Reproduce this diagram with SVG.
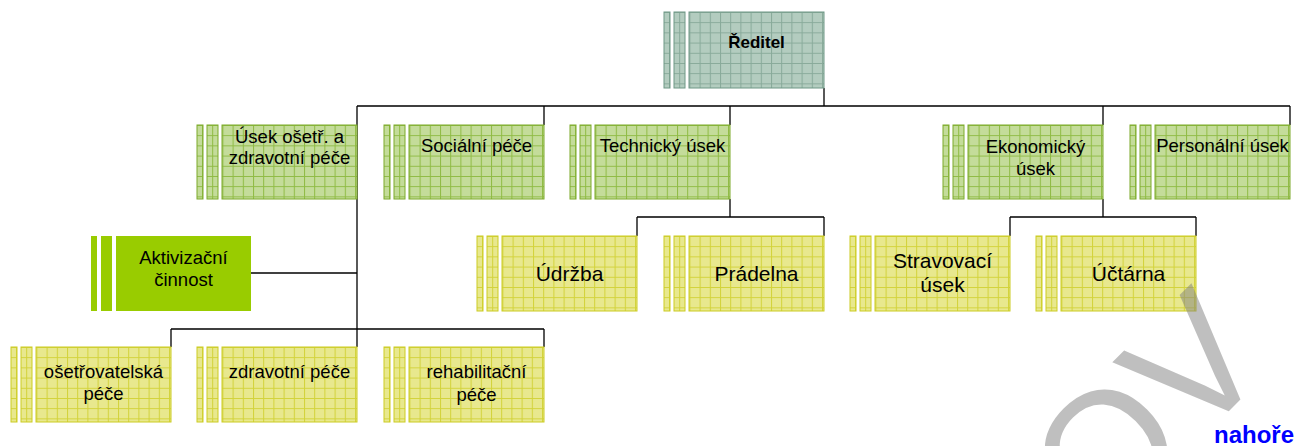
<svg xmlns="http://www.w3.org/2000/svg" width="1297" height="446" viewBox="0 0 1297 446">
<style>
text{font-family:"Liberation Sans",Arial,sans-serif;fill:#000;text-anchor:middle}
.g rect{fill:url(#pG);stroke:#7caa2a;stroke-width:1}
.y rect{fill:url(#pY);stroke:#cccc22;stroke-width:1}
.t rect{fill:url(#pT);stroke:#6e9886;stroke-width:1}
.a rect{fill:#99cc00;stroke:none}
.f18{font-size:18.5px}
.f21{font-size:21px}
.conn path{fill:none;stroke:#000;stroke-width:1.3}
</style>
<defs>
<pattern id="pG" x="5" width="10.2" height="10.2" patternUnits="userSpaceOnUse"><rect width="10.2" height="10.2" fill="#c4dc9a"/><path d="M0 0.5H10.2M0.5 0V10.2" stroke="#8fbb44" stroke-width="1"/></pattern>
<pattern id="pY" x="5" width="10.2" height="10.2" patternUnits="userSpaceOnUse"><rect width="10.2" height="10.2" fill="#e8e88e"/><path d="M0 0.5H10.2M0.5 0V10.2" stroke="#d2d23a" stroke-width="1"/></pattern>
<pattern id="pT" x="5" width="10.2" height="10.2" patternUnits="userSpaceOnUse"><rect width="10.2" height="10.2" fill="#b3ccbf"/><path d="M0 0.5H10.2M0.5 0V10.2" stroke="#88aa9a" stroke-width="1"/></pattern>
</defs>

<g id="connectors" class="conn">
<path d="M824 88V106M357 106H1290M357 106V347M544 106V125M730 106V125M1103 106V125M1290 106V125"/>
<path d="M730 199V217M637 217H824M637 217V236M824 217V236"/>
<path d="M1103 199V217M1010 217H1196M1010 217V236M1196 217V236"/>
<path d="M251 273H357"/>
<path d="M171 329H544M171 329V347M544 329V347"/>
</g>

<g id="n-reditel" class="t" transform="translate(664,12)">
<rect x="0" y="0" width="6" height="76"/><rect x="10" y="0" width="11" height="76"/><rect x="25" y="0" width="135" height="76"/>
<text x="92.5" y="36" style="font-size:17px;font-weight:bold">Ředitel</text>
</g>

<g id="n-usek" class="g" transform="translate(197,125)">
<rect x="0" y="0" width="6" height="74"/><rect x="10" y="0" width="11" height="74"/><rect x="25" y="0" width="135" height="74"/>
<text class="f18" x="92.5" y="17.5">Úsek ošetř. a</text>
<text class="f18" x="92.5" y="38.5">zdravotní péče</text>
</g>

<g id="n-socialni" class="g" transform="translate(384,125)">
<rect x="0" y="0" width="6" height="74"/><rect x="10" y="0" width="11" height="74"/><rect x="25" y="0" width="135" height="74"/>
<text class="f18" x="92.5" y="27">Sociální péče</text>
</g>

<g id="n-technicky" class="g" transform="translate(570,125)">
<rect x="0" y="0" width="6" height="74"/><rect x="10" y="0" width="11" height="74"/><rect x="25" y="0" width="135" height="74"/>
<text class="f18" x="92.5" y="26.5">Technický úsek</text>
</g>

<g id="n-ekonomicky" class="g" transform="translate(943,125)">
<rect x="0" y="0" width="6" height="74"/><rect x="10" y="0" width="11" height="74"/><rect x="25" y="0" width="135" height="74"/>
<text class="f18" x="92.5" y="27.5">Ekonomický</text>
<text class="f18" x="92.5" y="49.5">úsek</text>
</g>

<g id="n-personalni" class="g" transform="translate(1130,125)">
<rect x="0" y="0" width="6" height="74"/><rect x="10" y="0" width="11" height="74"/><rect x="25" y="0" width="135" height="74"/>
<text class="f18" x="92.5" y="27">Personální úsek</text>
</g>

<g id="n-aktivizacni" class="a" transform="translate(91,236)">
<rect x="0" y="0" width="6" height="75"/><rect x="10" y="0" width="11" height="75"/><rect x="25" y="0" width="135" height="75"/>
<text class="f18" x="92.5" y="28">Aktivizační</text>
<text class="f18" x="92.5" y="50">činnost</text>
</g>

<g id="n-udrzba" class="y" transform="translate(477,236)">
<rect x="0" y="0" width="6" height="75"/><rect x="10" y="0" width="11" height="75"/><rect x="25" y="0" width="135" height="75"/>
<text class="f21" x="92.5" y="45">Údržba</text>
</g>

<g id="n-pradelna" class="y" transform="translate(664,236)">
<rect x="0" y="0" width="6" height="75"/><rect x="10" y="0" width="11" height="75"/><rect x="25" y="0" width="135" height="75"/>
<text class="f21" x="92.5" y="45">Prádelna</text>
</g>

<g id="n-stravovaci" class="y" transform="translate(850,236)">
<rect x="0" y="0" width="6" height="75"/><rect x="10" y="0" width="11" height="75"/><rect x="25" y="0" width="135" height="75"/>
<text class="f21" x="92.5" y="32">Stravovací</text>
<text class="f21" x="92.5" y="55.5">úsek</text>
</g>

<g id="n-uctarna" class="y" transform="translate(1036,236)">
<rect x="0" y="0" width="6" height="75"/><rect x="10" y="0" width="11" height="75"/><rect x="25" y="0" width="135" height="75"/>
<text class="f21" x="92.5" y="45">Účtárna</text>
</g>

<g id="n-osetrovatelska" class="y" transform="translate(11,347)">
<rect x="0" y="0" width="6" height="75"/><rect x="10" y="0" width="11" height="75"/><rect x="25" y="0" width="135" height="75"/>
<text class="f18" x="92.5" y="30.5">ošetřovatelská</text>
<text class="f18" x="92.5" y="52.5">péče</text>
</g>

<g id="n-zdravotni" class="y" transform="translate(197,347)">
<rect x="0" y="0" width="6" height="75"/><rect x="10" y="0" width="11" height="75"/><rect x="25" y="0" width="135" height="75"/>
<text class="f18" x="92.5" y="31">zdravotní péče</text>
</g>

<g id="n-rehabilitacni" class="y" transform="translate(384,347)">
<rect x="0" y="0" width="6" height="75"/><rect x="10" y="0" width="11" height="75"/><rect x="25" y="0" width="135" height="75"/>
<text class="f18" x="92.5" y="31">rehabilitační</text>
<text class="f18" x="92.5" y="53.5">péče</text>
</g>

<text id="watermark" transform="translate(1101,539) rotate(-45)" x="0" y="0" style="font-size:170px;fill:#808080;opacity:0.5;text-anchor:start">OV</text>

<text id="nahore" x="1294" y="443" style="font-size:24px;font-weight:bold;fill:#0000ff;text-anchor:end">nahoře</text>
</svg>
